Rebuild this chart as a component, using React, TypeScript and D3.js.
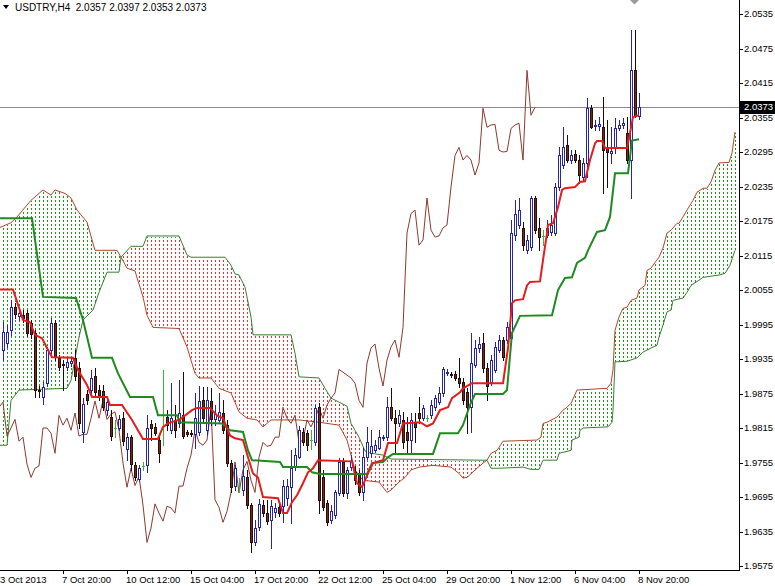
import React from 'react';
import * as d3 from 'd3';

const opens = [1.9950,1.9963,1.9985,2.0025,2.0010,2.0011,2.0015,1.9997,1.9980,1.9881,1.9869,1.9893,1.9950,1.9997,1.9937,1.9926,1.9921,1.9928,1.9937,1.9919,
1.9808,1.9874,1.9881,1.9905,1.9881,1.9879,1.9846,1.9834,1.9815,1.9815,1.9832,1.9778,1.9799,1.9750,1.9727,1.9749,1.9750,1.9822,1.9817,1.9794,
1.9837,1.9834,1.9811,1.9829,1.9823,1.9837,1.9808,1.9806,1.9804,1.9808,1.9863,1.9811,1.9862,1.9830,1.9829,1.9841,1.9820,1.9754,1.9715,1.9715,
1.9707,1.9729,1.9681,1.9616,1.9643,1.9681,1.9667,1.9655,1.9669,1.9677,1.9679,1.9693,1.9712,1.9747,1.9764,1.9808,1.9806,1.9794,1.9790,1.9851,
1.9729,1.9684,1.9655,1.9663,1.9702,1.9756,1.9702,1.9747,1.9738,1.9736,1.9703,1.9764,1.9771,1.9776,1.9781,1.9797,1.9799,1.9851,1.9832,1.9823,
1.9829,1.9808,1.9794,1.9825,1.9841,1.9832,1.9832,1.9837,1.9851,1.9860,1.9876,1.9911,1.9909,1.9909,1.9902,1.9895,1.9877,1.9851,1.9924,1.9954,
1.9963,1.9919,1.9895,1.9916,1.9950,1.9968,1.9968,1.9971,2.0150,2.0168,2.0163,2.0124,2.0129,2.0215,2.0163,2.0149,2.0150,2.0156,2.0154,2.0234,
2.0272,2.0307,2.0281,2.0291,2.0281,2.0251,2.0276,2.0371,2.0340,2.0340,2.0338,2.0302,2.0293,2.0302,2.0336,2.0342,2.0328,2.0281,2.0437,2.0357];

const highs = [1.9999,1.9994,2.0037,2.0032,2.0020,2.0020,2.0020,2.0002,1.9985,1.9888,1.9895,1.9956,2.0006,2.0002,1.9942,1.9933,1.9937,1.9937,1.9950,1.9930,
1.9867,1.9881,1.9916,1.9919,1.9890,1.9890,1.9867,1.9846,1.9829,1.9837,1.9843,1.9806,1.9802,1.9756,1.9750,1.9756,1.9837,1.9829,1.9823,1.9802,
1.9916,1.9846,1.9893,1.9855,1.9898,1.9912,1.9811,1.9811,1.9876,1.9888,1.9886,1.9886,1.9884,1.9855,1.9876,1.9863,1.9829,1.9759,1.9750,1.9728,
1.9768,1.9742,1.9684,1.9655,1.9691,1.9690,1.9690,1.9690,1.9684,1.9684,1.9724,1.9727,1.9776,1.9780,1.9818,1.9815,1.9811,1.9811,1.9855,1.9858,
1.9742,1.9690,1.9681,1.9707,1.9763,1.9763,1.9747,1.9768,1.9749,1.9742,1.9780,1.9817,1.9811,1.9794,1.9811,1.9802,1.9869,1.9884,1.9846,1.9846,
1.9843,1.9834,1.9841,1.9841,1.9869,1.9855,1.9837,1.9863,1.9872,1.9886,1.9921,1.9917,1.9912,1.9914,1.9937,1.9902,1.9884,1.9980,1.9968,1.9973,
1.9980,1.9928,1.9942,1.9964,1.9977,1.9973,1.9999,2.0176,2.0211,2.0215,2.0173,2.0150,2.0218,2.0218,2.0180,2.0159,2.0176,2.0185,2.0241,2.0303,
2.0338,2.0324,2.0298,2.0298,2.0289,2.0284,2.0389,2.0376,2.0350,2.0356,2.0390,2.0350,2.0338,2.0354,2.0350,2.0354,2.0356,2.0507,2.0507,2.0397];

const lows = [1.9933,1.9956,1.9977,2.0006,2.0003,1.9999,1.9975,1.9971,1.9869,1.9869,1.9856,1.9888,1.9940,1.9933,1.9916,1.9881,1.9916,1.9923,1.9898,1.9815,
1.9790,1.9856,1.9876,1.9872,1.9863,1.9846,1.9837,1.9794,1.9799,1.9811,1.9785,1.9759,1.9742,1.9724,1.9722,1.9742,1.9738,1.9794,1.9802,1.9756,
1.9785,1.9811,1.9806,1.9799,1.9817,1.9797,1.9801,1.9801,1.9781,1.9802,1.9823,1.9802,1.9820,1.9820,1.9823,1.9806,1.9749,1.9703,1.9707,1.9703,
1.9698,1.9676,1.9599,1.9612,1.9637,1.9662,1.9648,1.9606,1.9660,1.9662,1.9652,1.9681,1.9650,1.9742,1.9762,1.9785,1.9776,1.9778,1.9785,1.9667,
1.9672,1.9646,1.9650,1.9658,1.9698,1.9696,1.9693,1.9742,1.9717,1.9698,1.9690,1.9761,1.9764,1.9773,1.9778,1.9794,1.9794,1.9829,1.9771,1.9818,
1.9781,1.9771,1.9771,1.9790,1.9823,1.9829,1.9827,1.9832,1.9846,1.9856,1.9870,1.9907,1.9903,1.9898,1.9886,1.9856,1.9806,1.9808,1.9921,1.9947,
1.9912,1.9863,1.9890,1.9912,1.9947,1.9933,1.9963,1.9964,2.0142,2.0163,2.0124,2.0119,2.0124,2.0154,2.0124,2.0133,2.0147,2.0150,2.0150,2.0229,
2.0267,2.0277,2.0276,2.0277,2.0241,2.0246,2.0251,2.0336,2.0333,2.0333,2.0223,2.0234,2.0276,2.0293,2.0333,2.0336,2.0276,2.0215,2.0356,2.0353];

const closes = [1.9982,1.9982,2.0025,2.0013,2.0015,2.0006,1.9980,1.9978,1.9881,1.9879,1.9886,1.9950,1.9997,1.9938,1.9921,1.9924,1.9930,1.9931,1.9905,1.9823,
1.9856,1.9863,1.9902,1.9877,1.9869,1.9851,1.9860,1.9801,1.9815,1.9830,1.9792,1.9799,1.9752,1.9729,1.9745,1.9749,1.9815,1.9815,1.9806,1.9771,
1.9837,1.9820,1.9832,1.9811,1.9841,1.9801,1.9804,1.9804,1.9832,1.9862,1.9832,1.9863,1.9830,1.9839,1.9843,1.9811,1.9754,1.9712,1.9745,1.9715,
1.9731,1.9681,1.9616,1.9641,1.9683,1.9667,1.9653,1.9679,1.9676,1.9667,1.9714,1.9714,1.9745,1.9768,1.9811,1.9790,1.9785,1.9794,1.9850,1.9690,
1.9677,1.9651,1.9670,1.9703,1.9756,1.9702,1.9742,1.9757,1.9724,1.9703,1.9764,1.9790,1.9783,1.9785,1.9799,1.9799,1.9851,1.9832,1.9823,1.9837,
1.9790,1.9794,1.9829,1.9817,1.9832,1.9850,1.9832,1.9855,1.9867,1.9876,1.9917,1.9912,1.9907,1.9902,1.9893,1.9863,1.9851,1.9928,1.9954,1.9961,
1.9919,1.9888,1.9933,1.9956,1.9968,1.9938,1.9990,2.0154,2.0188,2.0194,2.0133,2.0142,2.0215,2.0159,2.0147,2.0149,2.0163,2.0168,2.0234,2.0289,
2.0303,2.0281,2.0289,2.0281,2.0255,2.0276,2.0371,2.0338,2.0342,2.0343,2.0298,2.0295,2.0296,2.0336,2.0342,2.0345,2.0281,2.0437,2.0359,2.0373];

// [bar, price] breakpoints
const tenkan: [number, number][] = [[-1,2.0056],[2.5,2.0056],[5,2.0003],[6.75,1.9999],[8,1.9977],[9.75,1.9971],[11,1.9954],[12.25,1.9938],[17.5,1.9937],[18.75,1.9916],[21,1.9890],[22.25,1.9869],[26,1.9869],[26.75,1.9855],[29.75,1.9855],[32.25,1.9829],[35,1.9796],[38.75,1.9796],[40,1.9817],[41.25,1.9823],[44.25,1.9830],[47.25,1.9846],[48.5,1.9850],[51.75,1.9850],[53.5,1.9837],[55,1.9832],[56.75,1.9802],[58,1.9797],[60,1.9794],[61.25,1.9764],[62.5,1.9736],[63.75,1.9729],[65,1.9695],[68.75,1.9693],[70,1.9667],[71,1.9667],[72.25,1.9686],[73.5,1.9698],[75,1.9719],[76.25,1.9738],[77.5,1.9745],[78.75,1.9759],[87.25,1.9757],[88.5,1.9719],[89.75,1.9712],[91.25,1.9736],[92.5,1.9754],[95,1.9759],[96.25,1.9789],[98.5,1.9789],[100,1.9823],[104.25,1.9825],[106,1.9818],[107.5,1.9823],[109.25,1.9846],[111.25,1.9851],[112.25,1.9867],[114.25,1.9877],[115,1.9884],[117.25,1.9893],[125,1.9893],[126.25,1.9954],[127.25,2.0032],[128,2.0037],[130,2.0039],[131,2.0063],[131.75,2.0069],[134.25,2.0070],[135,2.0107],[136,2.0154],[136.25,2.0168],[137.5,2.0171],[138.75,2.0199],[139.75,2.0229],[140.5,2.0232],[143,2.0234],[144.25,2.0243],[145.5,2.0244],[146.75,2.0281],[148,2.0310],[148.5,2.0314],[149.75,2.0314],[150.5,2.0302],[156,2.0302],[156.5,2.0319],[157.5,2.0356],[159,2.0359]];

const kijun: [number, number][] = [[-1,2.0180],[7.25,2.0180],[10,2.0043],[18.25,2.0041],[20,2.0003],[22.25,1.9937],[27.25,1.9937],[28.75,1.9910],[31.75,1.9869],[37.5,1.9869],[38.75,1.9837],[43.5,1.9837],[44.25,1.9825],[54.75,1.9823],[56.75,1.9811],[60,1.9808],[61.25,1.9776],[62.25,1.9759],[69.25,1.9756],[70,1.9747],[76,1.9747],[77.25,1.9738],[79.25,1.9735],[91,1.9735],[92.25,1.9754],[95,1.9756],[96.25,1.9764],[97.5,1.9770],[107.5,1.9770],[109.25,1.9806],[113.75,1.9806],[115,1.9820],[116.75,1.9855],[118,1.9874],[125,1.9874],[126,1.9881],[127.25,1.9980],[129.25,2.0010],[137.25,2.0011],[138.75,2.0055],[140.5,2.0076],[142.25,2.0077],[143.5,2.0102],[145.5,2.0111],[146.25,2.0124],[148.5,2.0156],[150.5,2.0159],[151.75,2.0182],[153,2.0258],[156.25,2.0258],[157.25,2.0315],[159,2.0317]];

const senkouA: [number, number][] = [[-1,2.0163],[2,2.0172],[3.5,2.0182],[7,2.0211],[10,2.0229],[12,2.0220],[13,2.0229],[15.5,2.0223],[17,2.0215],[18.5,2.0194],[21,2.0173],[23,2.0124],[28.5,2.0124],[29.5,2.0112],[31,2.0093],[33,2.0088],[35,2.0043],[36,2.0011],[37.5,1.9990],[44,1.9988],[46,1.9956],[48,1.9910],[49,1.9902],[52,1.9902],[54,1.9884],[57,1.9876],[59,1.9843],[61,1.9832],[63.5,1.9829],[65,1.9817],[67,1.9829],[74,1.9829],[79,1.9825],[84,1.9820],[86,1.9794],[88,1.9742],[90,1.9724],[94,1.9721],[96,1.9703],[97,1.9707],[99,1.9721],[100.5,1.9729],[102,1.9742],[104,1.9747],[107.5,1.9750],[112,1.9747],[114,1.9736],[115,1.9728],[116,1.9729],[118.5,1.9745],[120,1.9754],[121,1.9759],[122,1.9771],[123.5,1.9776],[125,1.9792],[133.5,1.9794],[134.5,1.9799],[135,1.9823],[136,1.9825],[138.5,1.9834],[140,1.9846],[141,1.9851],[142,1.9858],[143.5,1.9881],[151,1.9884],[152,1.9893],[152.5,1.9916],[153,1.9985],[154,2.0008],[155,2.0023],[156,2.0025],[157,2.0037],[158.5,2.0041],[159,2.0055],[160.5,2.0063],[161,2.0089],[162,2.0093],[163,2.0103],[164,2.0112],[165,2.0128],[166,2.0154],[167,2.0159],[168.5,2.0171],[169,2.0171],[170,2.0182],[171,2.0194],[172.5,2.0211],[173.5,2.0225],[175,2.0232],[176,2.0232],[177,2.0243],[178,2.0263],[179,2.0276],[181.5,2.0277],[182.25,2.0293],[183,2.0330]];

const senkouB: [number, number][] = [[-1,1.9785],[1,1.9785],[2,1.9863],[4,1.9881],[16,1.9884],[17,1.9898],[19,1.9973],[20,2.0003],[22.5,2.0020],[24,2.0051],[26,2.0086],[29,2.0086],[29.5,2.0112],[32,2.0131],[35,2.0131],[36,2.0149],[44,2.0149],[46,2.0116],[47,2.0112],[55.5,2.0112],[57,2.0098],[58,2.0083],[59,2.0081],[60.5,2.0060],[62,2.0008],[62.5,1.9977],[72,1.9977],[73,1.9945],[74,1.9904],[79,1.9902],[80.5,1.9884],[82,1.9867],[86,1.9853],[87,1.9823],[88,1.9811],[89,1.9799],[90.5,1.9775],[92,1.9771],[95,1.9768],[97,1.9761],[120,1.9759],[121,1.9759],[122,1.9745],[124,1.9745],[130,1.9747],[132,1.9743],[134,1.9743],[135,1.9759],[138.5,1.9759],[139,1.9771],[142,1.9776],[142.25,1.9794],[144,1.9799],[144.25,1.9811],[145,1.9815],[151.25,1.9817],[152.25,1.9825],[152.5,1.9846],[153,1.9930],[156,1.9931],[158.5,1.9937],[160,1.9947],[162,1.9954],[163.5,1.9959],[164,1.9973],[165,1.9994],[166,2.0017],[167,2.0020],[167.5,2.0037],[170,2.0041],[171,2.0051],[172,2.0063],[174,2.0072],[175,2.0077],[179,2.0081],[180.5,2.0084],[181.75,2.0098],[183,2.0124]];

const chikouShift = 26;
const yTickValues = [2.0535,2.0475,2.0415,2.0355,2.0295,2.0235,2.0175,2.0115,2.0055,1.9995,1.9935,1.9875,1.9815,1.9755,1.9695,1.9635,1.9575];
const xTickBars = [-1,15,31,47,63,79,95,111,127,143,159];
const xTickLabels = ['3 Oct 2013','7 Oct 20:00','10 Oct 12:00','15 Oct 04:00','17 Oct 20:00','22 Oct 12:00','25 Oct 04:00','29 Oct 20:00','1 Nov 12:00','6 Nov 04:00','8 Nov 20:00'];
const symbolTitle = 'USDTRY,H4';
const lastPrice = 2.0373;

export default function App() {
  const W = 775, H = 586;
  const plotR = 739, plotB = 570;
  const x = d3.scaleLinear().domain([0, 159]).range([3, 639]);
  const y = d3.scaleLinear().domain([1.9575, 2.0535]).range([566, 14]);
  const font = "'Liberation Sans', Arial, sans-serif";

  const aF = d3.scaleLinear().domain(senkouA.map(d => d[0])).range(senkouA.map(d => d[1])).clamp(true);
  const bF = d3.scaleLinear().domain(senkouB.map(d => d[0])).range(senkouB.map(d => d[1])).clamp(true);
  const cloudBars = d3.range(-1, 184, 1);
  const line = d3.line<[number, number]>().x(d => x(d[0])).y(d => y(d[1]));
  const chikouPts: [number, number][] = closes.map((c, i) => [i - chikouShift, c]);

  const ry = (v: number) => Math.round(y(v));

  return (
    <svg width={W} height={H} style={{ position: 'absolute', left: 0, top: 0, background: '#fff' }} fontFamily={font}>
      <defs>
        <clipPath id="plot"><rect x={0} y={0} width={plotR} height={plotB} /></clipPath>
      </defs>
      <rect x={0} y={0} width={W} height={H} fill="#fff" />
      <g clipPath="url(#plot)">
        <g shapeRendering="crispEdges">
          {cloudBars.map(b => {
            const a = aF(b), s = bF(b);
            const top = Math.round(y(Math.max(a, s)));
            const bot = Math.round(y(Math.min(a, s)));
            if (bot - top < 2) return null;
            const cx = Math.round(x(b)) + 0.5;
            return (
              <line key={b} x1={cx} x2={cx} y1={top + 1} y2={bot} stroke={a >= s ? '#1e961e' : '#e03434'}
                strokeWidth={1} strokeDasharray="2 2" strokeDashoffset={top + 1} />
            );
          })}
        </g>
        <path d={line(senkouA) || ''} fill="none" stroke="#b0452c" strokeWidth={1} />
        <path d={line(senkouB) || ''} fill="none" stroke="#3a7e32" strokeWidth={1} />
        <line x1={0} x2={plotR} y1={Math.round(y(lastPrice)) + 0.5} y2={Math.round(y(lastPrice)) + 0.5} stroke="#8c8c8c" strokeWidth={1} />
        <path d={line(chikouPts) || ''} fill="none" stroke="#8a3a30" strokeWidth={1} />
        <g shapeRendering="crispEdges">
          {closes.map((c, i) => {
            const o = opens[i];
            const cx = Math.round(x(i));
            const yh = ry(highs[i]), yl = ry(lows[i]);
            const yo = ry(o), yc = ry(c);
            if (o === c) {
              return (
                <g key={i}>
                  <line x1={cx + 0.5} x2={cx + 0.5} y1={yh} y2={yl + 1} stroke="#3cb43c" />
                  <line x1={cx - 1} x2={cx + 2} y1={yo + 0.5} y2={yo + 0.5} stroke="#3cb43c" />
                </g>
              );
            }
            const bull = c > o;
            const top = Math.min(yo, yc), bot = Math.max(yo, yc);
            return (
              <g key={i}>
                <line x1={cx + 0.5} x2={cx + 0.5} y1={yh} y2={yl + 1} stroke={bull ? '#2424b0' : '#1a0c08'} />
                <rect x={cx - 0.5} y={top + 0.5} width={2} height={Math.max(1, bot - top)}
                  fill={bull ? '#ffffff' : '#6e2a1c'} stroke={bull ? '#2424b0' : '#2a0e08'} strokeWidth={1} />
              </g>
            );
          })}
        </g>
        <path d={line(kijun) || ''} fill="none" stroke="#1f8a1f" strokeWidth={2} />
        <path d={line(tenkan) || ''} fill="none" stroke="#e41c1c" strokeWidth={2} />
      </g>
      <path d="M630,0 L634.5,-4.5 L639,0 L634.5,4.5 Z" fill="#9a9a9a" />
      <g shapeRendering="crispEdges">
        <line x1={plotR + 0.5} x2={plotR + 0.5} y1={0} y2={plotB + 1} stroke="#000" />
        <line x1={0} x2={plotR + 1} y1={plotB + 0.5} y2={plotB + 0.5} stroke="#000" />
        {yTickValues.map(v => (
          <line key={v} x1={plotR} x2={plotR + 4} y1={Math.round(y(v)) + 0.5} y2={Math.round(y(v)) + 0.5} stroke="#000" />
        ))}
        {xTickBars.map(b => (
          <line key={b} x1={Math.round(x(b)) + 0.5} x2={Math.round(x(b)) + 0.5} y1={plotB} y2={plotB + 4} stroke="#000" />
        ))}
      </g>
      {yTickValues.map(v => (
        <text key={v} x={744} y={y(v)} dy="0.35em" fontSize={9.5} fill="#000">{v.toFixed(4)}</text>
      ))}
      <rect x={740} y={Math.round(y(lastPrice)) - 6} width={35} height={13} fill="#000" />
      <text x={744} y={y(lastPrice)} dy="0.35em" fontSize={9.5} fill="#fff">{lastPrice.toFixed(4)}</text>
      {xTickBars.map((b, k) => (
        <text key={b} x={Math.max(0, Math.round(x(b)) - 1)} y={583} fontSize={9.5} fill="#000">{xTickLabels[k]}</text>
      ))}
      <path d="M3,5 L9,5 L6,9 Z" fill="#000" />
      <text x={15} y={11} fontSize={10} fill="#000" style={{ whiteSpace: 'pre' }}>
        {`${symbolTitle}  ${opens[159].toFixed(4)} ${highs[159].toFixed(4)} ${lows[159].toFixed(4)} ${closes[159].toFixed(4)}`}
      </text>
    </svg>
  );
}
